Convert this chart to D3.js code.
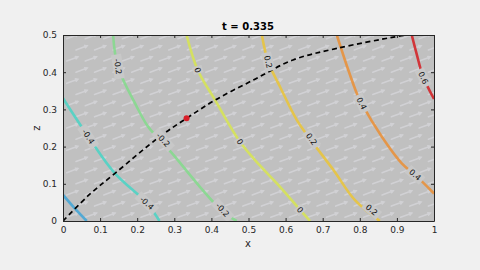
<!DOCTYPE html>
<html>
<head>
<meta charset="utf-8">
<script src="https://cdn.jsdelivr.net/npm/d3@7"></script>
<style>
  body { margin: 0; background: #f0f0f0; }
  text { font-family: "DejaVu Sans", sans-serif; }
</style>
</head>
<body>
<div id="chart"></div>
<script>
// contour levels and the points [x, z]
var levels = [-0.6, -0.4, -0.2, 0, 0.2, 0.4, 0.6];
var levelColors = ['#46a6d6', '#4fd3c4', '#86d98e', '#d6e356', '#e8c43e', '#e8913c', '#d3262a'];
var contourPts = [
  [[0, 0.07], [0.028, 0.038], [0.064, 0]],
  [[0, 0.33], [0.068, 0.227], [0.14, 0.128], [0.226, 0.048], [0.26, 0]],
  [[0.135, 0.5], [0.148, 0.415], [0.199, 0.307], [0.229, 0.254], [0.261, 0.218], [0.293, 0.183], [0.369, 0.092], [0.431, 0.025], [0.468, 0]],
  [[0.333, 0.5], [0.363, 0.406], [0.41, 0.325], [0.477, 0.213], [0.53, 0.15], [0.585, 0.092], [0.639, 0.03], [0.666, 0]],
  [[0.536, 0.5], [0.553, 0.428], [0.585, 0.361], [0.63, 0.272], [0.67, 0.215], [0.729, 0.137], [0.787, 0.056], [0.854, 0]],
  [[0.738, 0.5], [0.769, 0.406], [0.792, 0.343], [0.805, 0.316], [0.859, 0.227], [0.913, 0.155], [0.949, 0.124], [1, 0.074]],
  [[0.94, 0.5], [0.953, 0.45], [0.97, 0.39], [1, 0.328]]
];
// inline labels: level index, x, z
var labelPts = [
  [1, 0.068, 0.227], [1, 0.226, 0.048],
  [2, 0.148, 0.415], [2, 0.27, 0.218], [2, 0.43, 0.03],
  [3, 0.363, 0.406], [3, 0.477, 0.213], [3, 0.639, 0.03],
  [4, 0.553, 0.428], [4, 0.67, 0.22], [4, 0.832, 0.03],
  [5, 0.805, 0.316], [5, 0.949, 0.124],
  [6, 0.971, 0.385]
];
// particle path and current position
var pathPts = [[0, 0], [0.07, 0.07], [0.14, 0.128], [0.261, 0.227], [0.333, 0.276], [0.41, 0.325],
  [0.513, 0.379], [0.62, 0.433], [0.738, 0.464], [0.895, 0.495], [0.93, 0.5], [0.97, 0.5]];
var dot = [0.333, 0.276];
var tValue = 0.335;
// velocity arrows (background field)
var arrowX = d3.range(0.01, 1, 0.05);
var arrowZ = d3.range(0.01, 0.5, 0.03);
var arrowU = 0.03, arrowV = 0.011;

var xTicks = [0, 0.1, 0.2, 0.3, 0.4, 0.5, 0.6, 0.7, 0.8, 0.9, 1];
var zTicks = [0, 0.1, 0.2, 0.3, 0.4, 0.5];

var W = 480, H = 270;
var x = d3.scaleLinear().domain([0, 1]).range([63, 434]);
var y = d3.scaleLinear().domain([0, 0.5]).range([221, 35]);

var svg = d3.select('#chart').append('svg')
  .attr('width', W).attr('height', H)
  .style('background', '#f0f0f0');

svg.append('defs').append('clipPath').attr('id', 'clip')
  .append('rect').attr('x', 63).attr('y', 35).attr('width', 371).attr('height', 186);

svg.append('rect')
  .attr('x', 63).attr('y', 35).attr('width', 371).attr('height', 186)
  .attr('fill', '#c0c0c0');

var plot = svg.append('g').attr('clip-path', 'url(#clip)');

// arrows
var arrows = [];
arrowZ.forEach(function(zz, j) {
  arrowX.forEach(function(xx) {
    arrows.push([xx + (j % 2) * 0.025, zz]);
  });
});
var ag = plot.append('g').attr('stroke', '#e6e6ee').attr('stroke-width', 1.6)
  .attr('fill', 'none').attr('opacity', 0.45).attr('stroke-linecap', 'round');
ag.selectAll('path').data(arrows).enter().append('path')
  .attr('d', function(d) {
    var x0 = x(d[0]), y0 = y(d[1]);
    var x1 = x(d[0] + arrowU), y1 = y(d[1] + arrowV);
    var a = Math.atan2(y1 - y0, x1 - x0);
    var h = 2.5;
    return 'M' + x0 + ',' + y0 + 'L' + x1 + ',' + y1 +
      'M' + (x1 - h * Math.cos(a - 0.5)) + ',' + (y1 - h * Math.sin(a - 0.5)) +
      'L' + x1 + ',' + y1 +
      'L' + (x1 - h * Math.cos(a + 0.5)) + ',' + (y1 - h * Math.sin(a + 0.5));
  });

var line = d3.line()
  .x(function(d) { return x(d[0]); })
  .y(function(d) { return y(d[1]); })
  .curve(d3.curveCatmullRom);

plot.selectAll('path.contour').data(contourPts).enter().append('path')
  .attr('class', 'contour')
  .attr('d', line)
  .attr('fill', 'none')
  .attr('stroke', function(d, i) { return levelColors[i]; })
  .attr('stroke-width', 2.6)
  .attr('stroke-opacity', 0.9);

// dashed path
plot.append('path')
  .datum(pathPts)
  .attr('d', line)
  .attr('fill', 'none')
  .attr('stroke', '#000')
  .attr('stroke-width', 1.7)
  .attr('stroke-dasharray', '5,3.5');

plot.append('circle')
  .attr('cx', x(dot[0])).attr('cy', y(dot[1]))
  .attr('r', 3).attr('fill', '#d8202a');

// contour labels rotated along the line
function slopeAt(pts, px) {
  var best = 1;
  for (var i = 1; i < pts.length; i++) {
    if (pts[i][0] >= px) { best = i; break; }
    best = i;
  }
  var a = pts[best - 1], b = pts[best];
  return Math.atan2(y(b[1]) - y(a[1]), x(b[0]) - x(a[0])) * 180 / Math.PI;
}
var lg = plot.append('g');
labelPts.forEach(function(d) {
  var ang = slopeAt(contourPts[d[0]], d[1]);
  if (ang > 90) ang -= 180;
  if (ang < -90) ang += 180;
  var g = lg.append('g')
    .attr('transform', 'translate(' + x(d[1]) + ',' + y(d[2]) + ') rotate(' + ang + ')');
  var txt = String(levels[d[0]]);
  g.append('rect')
    .attr('x', -txt.length * 2.8 - 1).attr('y', -5)
    .attr('width', txt.length * 5.6 + 2).attr('height', 10)
    .attr('fill', '#c8c8c8');
  g.append('text')
    .attr('text-anchor', 'middle').attr('dy', '0.35em')
    .style('font-size', '8px').attr('fill', '#111')
    .text(txt);
});

// axes
var xAxis = d3.axisBottom(x).tickValues(xTicks).tickSizeInner(-3).tickSizeOuter(0)
  .tickFormat(d3.format('~g')).tickPadding(6);
var yAxis = d3.axisLeft(y).tickValues(zTicks).tickSizeInner(-3).tickSizeOuter(0)
  .tickFormat(d3.format('~g')).tickPadding(6);
svg.append('g').attr('transform', 'translate(0,221)').call(xAxis);
svg.append('g').attr('transform', 'translate(63,0)').call(yAxis);
svg.append('g').attr('transform', 'translate(0,35)')
  .call(d3.axisTop(x).tickValues(xTicks).tickSizeInner(-3).tickSizeOuter(0).tickFormat(''));
svg.append('g').attr('transform', 'translate(434,0)')
  .call(d3.axisRight(y).tickValues(zTicks).tickSizeInner(-3).tickSizeOuter(0).tickFormat(''));
svg.selectAll('.domain').attr('stroke', '#262626');
svg.selectAll('.tick line').attr('stroke', '#262626');
svg.selectAll('.tick text').style('font-size', '9px').attr('fill', '#262626')
  .style('font-family', 'DejaVu Sans, sans-serif');

svg.append('text')
  .attr('x', 248).attr('y', 30).attr('text-anchor', 'middle')
  .style('font-size', '10px').style('font-weight', 'bold').attr('fill', '#000')
  .text('t = ' + tValue);
svg.append('text')
  .attr('x', 248).attr('y', 247).attr('text-anchor', 'middle')
  .style('font-size', '10px').attr('fill', '#262626').text('x');
svg.append('text')
  .attr('transform', 'translate(40,128) rotate(-90)').attr('text-anchor', 'middle')
  .style('font-size', '10px').attr('fill', '#262626').text('z');
</script>
</body>
</html>
